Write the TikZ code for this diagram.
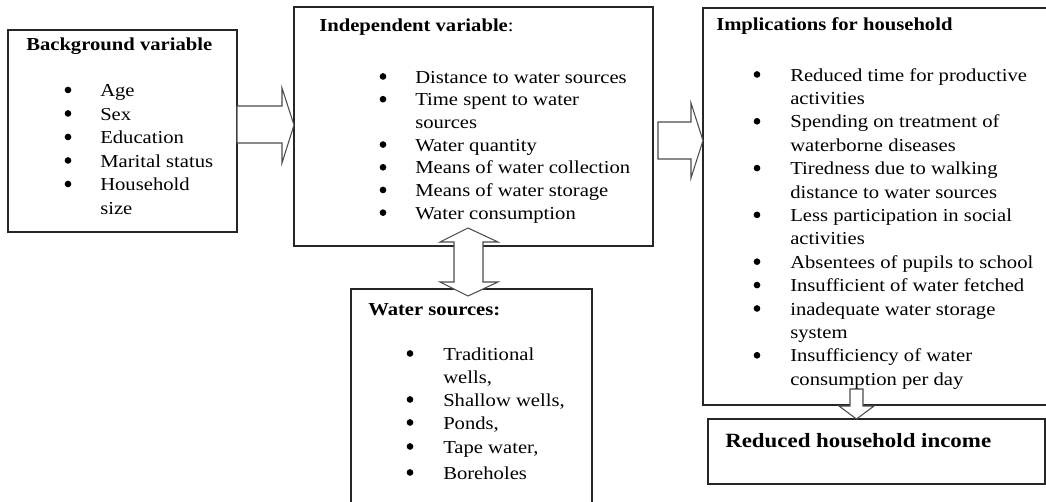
\documentclass[tikz,border=0pt]{standalone}
\usepackage{fontspec}
\setmainfont{Liberation Serif}[FakeStretch=1.13]
\usetikzlibrary{calc}
\newcommand\boxnode[5]{\node[box, minimum width={(#4-#2)*0.75pt}, minimum height={(#5-#3)*0.75pt}] (#1) at ({(#2+#4)/2},{(#3+#5)/2}) {};}
\begin{document}
\begin{tikzpicture}[x=0.75pt,y=-0.75pt,
  box/.style={draw=black!85, line width=1.1pt, inner sep=0, outer sep=0},
  barrow/.style={draw=black!70, line width=0.8pt, fill=white, line join=miter},
  txt/.style={inner sep=0, anchor=base west, font=\fontsize{13.7}{16}\selectfont, text=black},
  ttl/.style={txt, font=\fontsize{13.7}{16}\selectfont\bfseries},
  bul/.style={circle, fill=black, draw=none, inner sep=0, minimum size=5pt, yshift=4.9pt}]
\useasboundingbox (0,0) rectangle (1046,501);
\clip (0,0) rectangle (1046,501);

% boxes
\boxnode{bg}{8}{30}{237}{232}
\boxnode{iv}{294}{7}{653}{246}
\boxnode{im}{703}{8}{1049}{405}
\boxnode{ws}{351}{289}{592}{504}
\boxnode{inc}{708}{419}{1045}{484}

% box 1
\node[ttl] (bgt) at (26,50) {Background variable};
\foreach \t/\b [count=\i from 0] in {Age/1, Sex/1, Education/1, Marital status/1, Household/1, size/0}{
  \node[txt] (bg\i) at (100,{96.5+23.5*\i}) {\t};
  \ifnum\b=1 \node[bul] (bgb\i) at (68,{96.5+23.5*\i}) {};\fi
}

% box 2
\node[txt] (ivt) at (319,31) {\textbf{Independent variable}:};
\foreach \t/\b [count=\i from 0] in {Distance to water sources/1, Time spent to water/1, sources/0, Water quantity/1, Means of water collection/1, Means of water storage/1, Water consumption/1}{
  \node[txt] (iv\i) at (415,{83+22.7*\i}) {\t};
  \ifnum\b=1 \node[bul] (ivb\i) at (383,{83+22.7*\i}) {};\fi
}

% box 3
\node[ttl] (imt) at (716,30) {Implications for household};
\foreach \t/\b [count=\i from 0] in {Reduced time for productive/1, activities/0, Spending on treatment of/1, waterborne diseases/0, Tiredness due to walking/1, distance to water sources/0, Less participation in social/1, activities/0, Absentees of pupils to school/1, Insufficient of water fetched/1, inadequate water storage/1, system/0, Insufficiency of water/1, consumption per day/0}{
  \node[txt] (im\i) at (790,{81+23.4*\i}) {\t};
  \ifnum\b=1 \node[bul] (imb\i) at (757,{81+23.4*\i}) {};\fi
}

% box 4
\node[ttl] (wst) at (368,315) {Water sources:};
\node[txt] (ws0) at (443,360) {Traditional};
\node[txt] (ws1) at (443,383) {wells,};
\node[txt] (ws2) at (443,406) {Shallow wells,};
\node[txt] (ws3) at (443,429) {Ponds,};
\node[txt] (ws4) at (443,453) {Tape water,};
\node[txt] (ws5) at (443,479) {Boreholes};
\node[bul] (wsb0) at (410,360) {};
\node[bul] (wsb2) at (410,406) {};
\node[bul] (wsb3) at (410,429) {};
\node[bul] (wsb4) at (410,453) {};
\node[bul] (wsb5) at (410,479) {};

% box 5
\node[ttl, font=\fontsize{15.2}{18}\selectfont\bfseries] (inct) at (725,447) {Reduced household income};

% block arrows
\draw[barrow] (bg.east |- 0,106) -- (282,106) -- (282,88) -- (iv.west |- 0,125) -- (282,163) -- (282,143) -- (bg.east |- 0,143) -- cycle;
\draw[barrow] (658,122) -- (691,122) -- (691,103) -- (im.west |- 0,140.5) -- (691,178) -- (691,159) -- (658,159) -- cycle;
\draw[barrow] (468,228) -- (498,242) -- (483,242) -- (483,282) -- (498,282) -- (468,296) -- (440,282) -- (454,282) -- (454,242) -- (440,242) -- cycle;
\draw[barrow] (850,389) -- (863,389) -- (863,406) -- (874,406) -- (inc.north -| 856.5,0) -- (839,406) -- (850,406) -- cycle;
\end{tikzpicture}
\end{document}
